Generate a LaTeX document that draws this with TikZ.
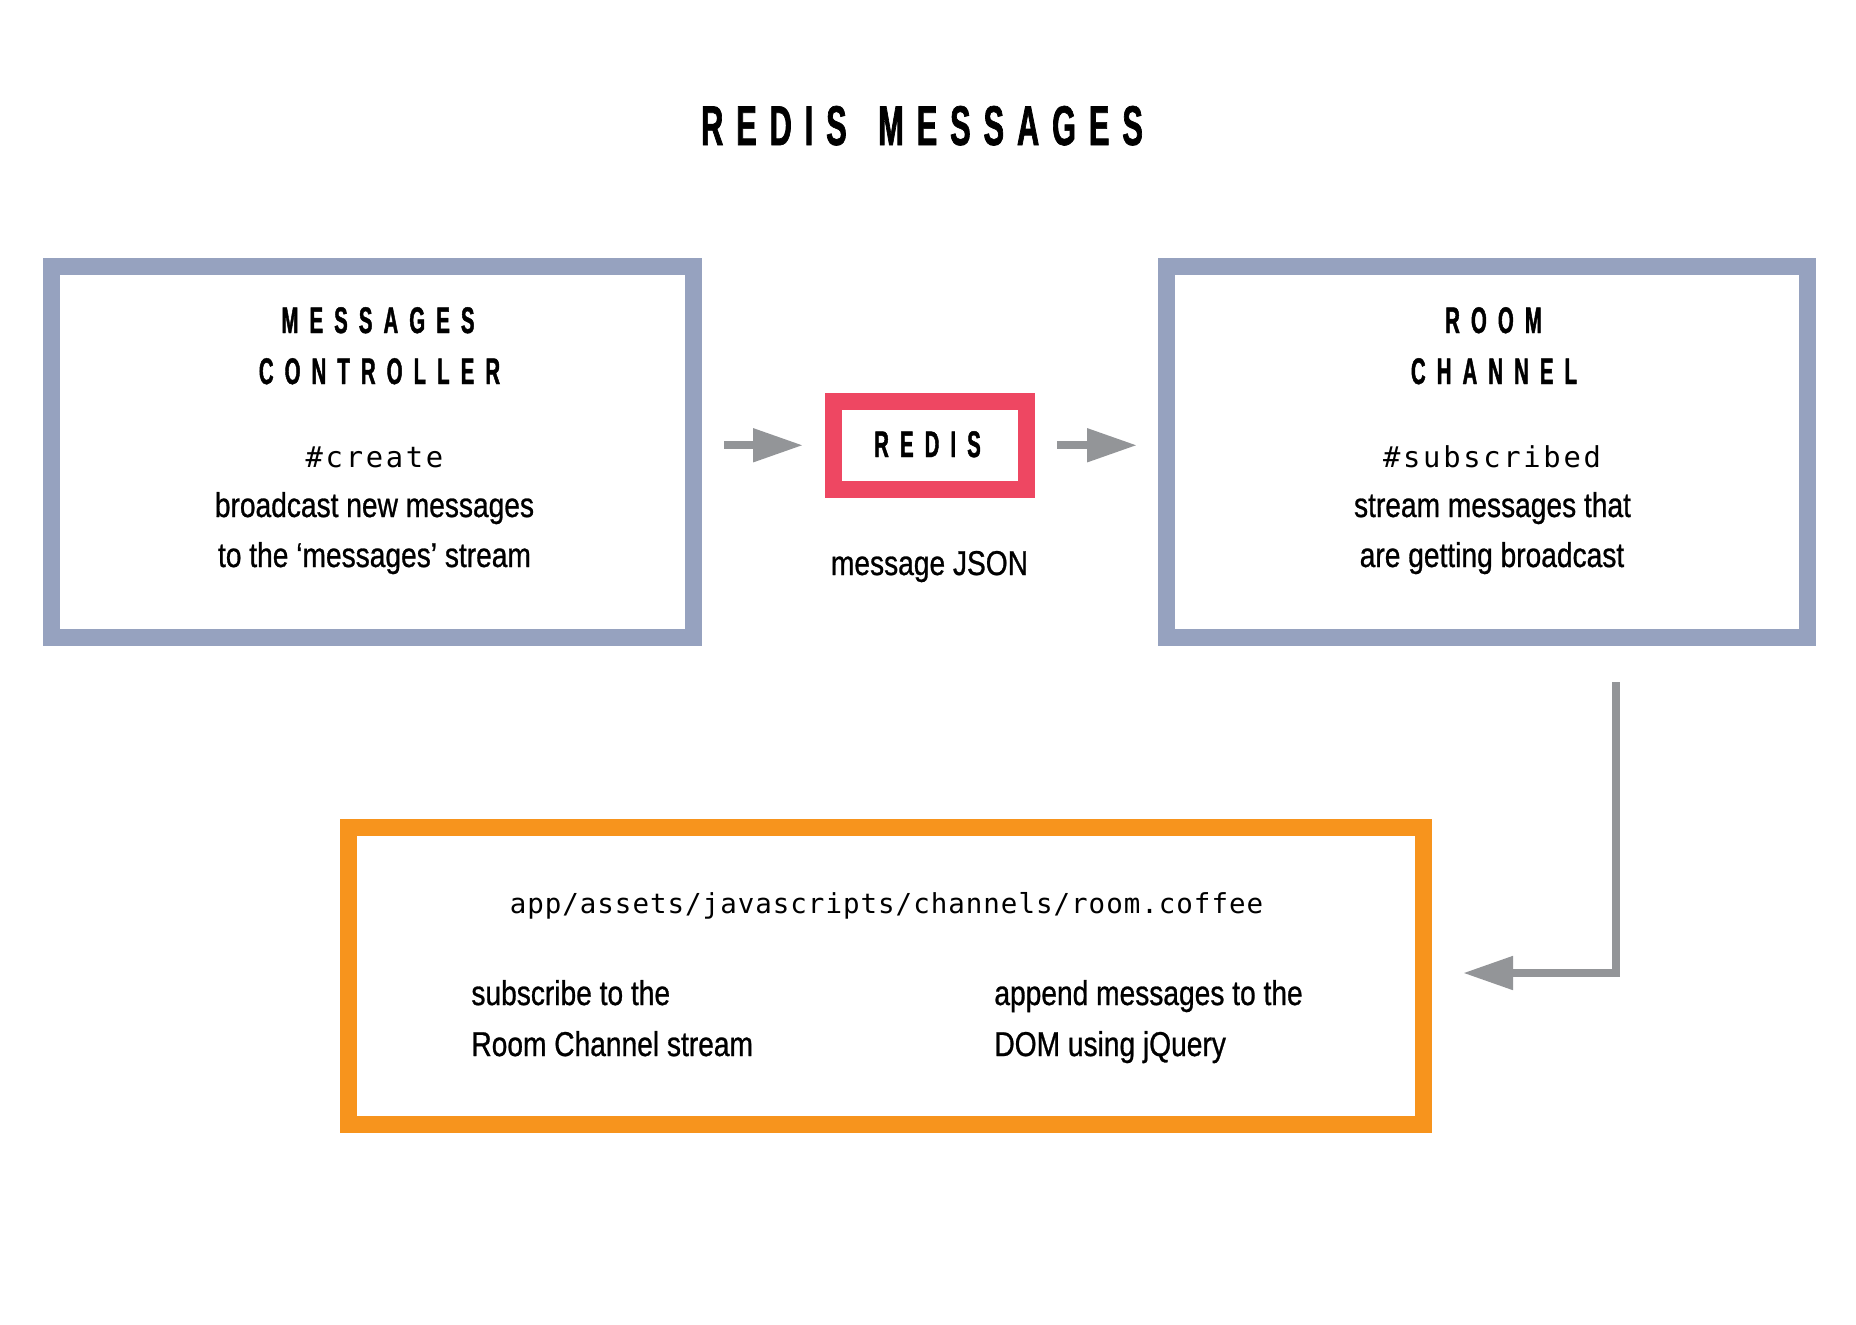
\documentclass[tikz,border=0pt]{standalone}
\usepackage{fontspec}
\setmainfont{Liberation Sans}
\newfontfamily\bodyf[FakeStretch=0.816,FakeBold=0.8]{Liberation Sans}
\newfontfamily\headf[FakeStretch=0.55,LetterSpace=30,FakeBold=1.2]{Liberation Sans}
\newfontfamily\titlef[FakeStretch=0.55,LetterSpace=23,FakeBold=1.2]{Liberation Sans}
\newfontfamily\monoa[LetterSpace=9.4]{DejaVu Sans Mono}
\newfontfamily\monob[LetterSpace=3.6]{DejaVu Sans Mono}
\usetikzlibrary{arrows.meta}
\definecolor{boxblue}{HTML}{96A2BF}
\definecolor{redisred}{HTML}{EE4762}
\definecolor{codeorange}{HTML}{F7941D}
\definecolor{arrowgray}{HTML}{939598}
\tikzset{
  frame/.style={draw, line width=8.5pt, inner sep=0pt},
  txt/.style={inner sep=0pt, anchor=base},
  body/.style={txt, font=\bodyf\fontsize{17.25pt}{20pt}\selectfont},
  head/.style={txt, font=\headf\bfseries\fontsize{18.5pt}{22pt}\selectfont},
  ttl/.style={txt, font=\titlef\bfseries\fontsize{28pt}{32pt}\selectfont},
  codea/.style={txt, font=\monoa\fontsize{14.4pt}{17pt}\selectfont},
  codeb/.style={txt, font=\monob\fontsize{13.75pt}{16pt}\selectfont},
  arr/.style={draw=arrowgray, line width=4pt, -{Triangle[length=25pt,width=16pt]}}
}
\begin{document}
\begin{tikzpicture}[x=0.5pt,y=-0.5pt]
\useasboundingbox (0,0) rectangle (1856,1324);
\fill[white] (0,0) rectangle (1856,1324);
% title
\node[ttl] (title) at (922,145) {REDIS\hspace{5pt} MESSAGES};
% boxes
\node[frame, draw=boxblue, minimum width=321pt, minimum height=185.5pt] (lbox) at (372.5,452) {};
\node[frame, draw=boxblue, minimum width=320.5pt, minimum height=185.5pt] (rbox) at (1487,452) {};
\node[frame, draw=redisred, minimum width=96.5pt, minimum height=43.75pt] (redis) at (930,445.25) {};
\node[frame, draw=codeorange, minimum width=537.5pt, minimum height=148.5pt] (obox) at (886,976) {};
% left box text
\node[head] (lh1) at (378,333) {MESSAGES};
\node[head] (lh2) at (379.5,384) {CONTROLLER};
\node[codea] (l3) at (374.5,467) {\#create};
\node[body] (l4) at (374.5,517) {broadcast new messages};
\node[body] (l5) at (374.5,567) {to the ‘messages’ stream};
% right box text
\node[head] (rh1) at (1493.5,333) {ROOM};
\node[head] (rh2) at (1494,384) {CHANNEL};
\node[codea] (r3) at (1492,467) {\#subscribed};
\node[body] (r4) at (1492.5,517) {stream messages that};
\node[body] (r5) at (1492,567) {are getting broadcast};
% redis
\node[head] (rt) at (927.5,457) {REDIS};
\node[body] (json) at (929.5,575) {message JSON};
% orange box text
\node[codeb] (path) at (886.5,913) {app/assets/javascripts/channels/room.coffee};
\node[body, anchor=base west] (o1) at (471,1005) {subscribe to the};
\node[body, anchor=base west] (o2) at (471,1056) {Room Channel stream};
\node[body, anchor=base west] (o3) at (994,1005) {append messages to the};
\node[body, anchor=base west] (o4) at (994,1056) {DOM using jQuery};
% connectors
\draw[arr, shorten <=11pt, shorten >=11pt] (lbox.east |- redis.west) -- (redis.west);
\draw[arr, shorten <=11pt, shorten >=10.5pt] (redis.east) -- (rbox.west |- redis.east);
\coordinate (elb) at (1616,973);
\draw[arr, shorten <=18pt, shorten >=15.5pt] (rbox.south -| elb) -- (elb) -- (obox.east |- elb);
\end{tikzpicture}
\end{document}
